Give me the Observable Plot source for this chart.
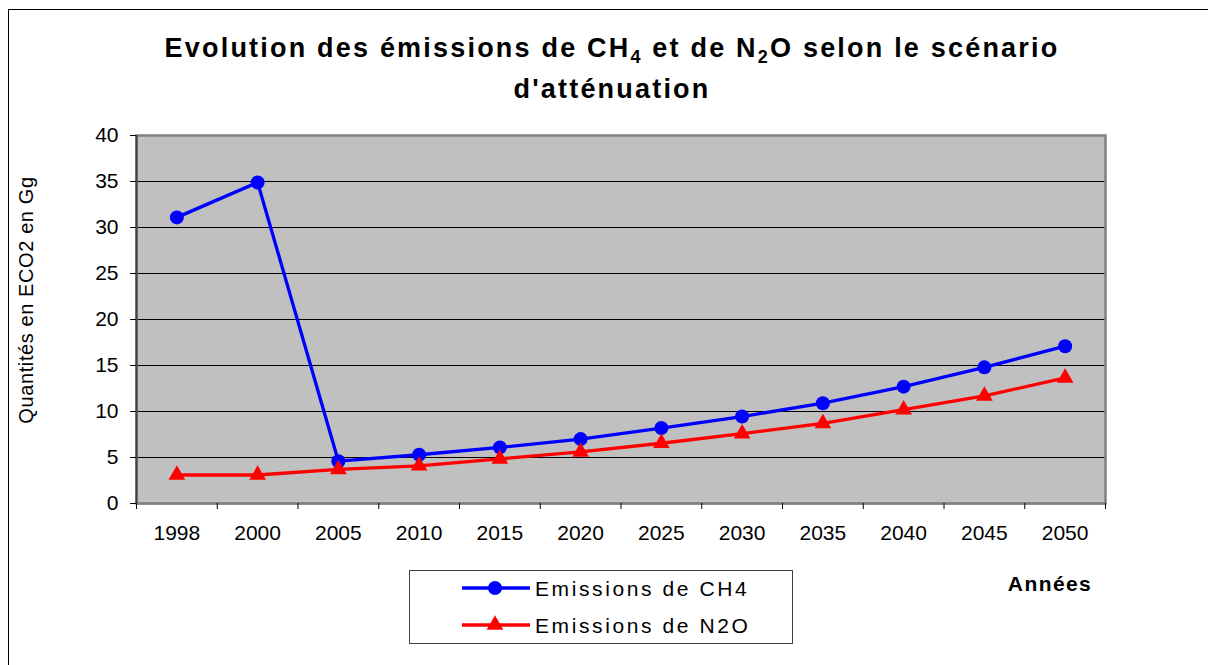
<!DOCTYPE html>
<html>
<head>
<meta charset="utf-8">
<script src="https://cdn.jsdelivr.net/npm/d3@7"></script>
<script src="https://cdn.jsdelivr.net/npm/@observablehq/plot@0.6"></script>
<style>
  html, body { margin: 0; padding: 0; background: #fff; overflow: hidden; }
  #wrap { position: relative; width: 1208px; height: 665px; overflow: hidden; font-family: "Liberation Sans", Arial, sans-serif; }
  #border { position: absolute; left: 8px; top: 9px; width: 1220px; height: 680px; border: 1px solid #000; box-sizing: border-box; }
  #chart { position: absolute; left: 0; top: 0; }
  #overlay { position: absolute; left: 0; top: 0; pointer-events: none; }
</style>
</head>
<body>
<div id="wrap">
  <div id="border"></div>
  <div id="chart"></div>
  <svg id="overlay" width="1208" height="665"></svg>
</div>
<script>
// ---- data ----
const years = ["1998", "2000", "2005", "2010", "2015", "2020", "2025", "2030", "2035", "2040", "2045", "2050"];
const ch4 = [31.1, 34.9, 4.6, 5.3, 6.1, 7.0, 8.2, 9.45, 10.9, 12.7, 14.8, 17.1];
const n2o = [3.1, 3.1, 3.7, 4.1, 4.85, 5.6, 6.55, 7.6, 8.7, 10.2, 11.7, 13.65];
const yTicks = [0, 5, 10, 15, 20, 25, 30, 35, 40];
const gridValues = [5, 10, 15, 20, 25, 30, 35];
const titleLine1 = ["Evolution des émissions de CH", "4", " et de N", "2", "O selon le scénario"];
const titleLine2 = "d'atténuation";
const yLabel = "Quantités en ECO2 en Gg";
const xLabel = "Années";
const seriesNames = ["Emissions de CH4", "Emissions de N2O"];

const rows = years.map((y, i) => ({i, year: y, ch4: ch4[i], n2o: n2o[i]}));
const idx = years.map((_, i) => i);
const boundaries = [...idx.map(i => i - 0.5), years.length - 0.5];

const font = '"Liberation Sans", Arial, sans-serif';

const chart = Plot.plot({
  width: 1208,
  height: 665,
  marginTop: 135,
  marginBottom: 162,
  marginLeft: 136,
  marginRight: 103,
  style: {fontFamily: font, fontSize: "21px", color: "#000", background: "transparent", overflow: "visible"},
  x: {type: "linear", domain: [-0.5, years.length - 0.5], axis: null},
  y: {domain: [0, 40], axis: null},
  marks: [
    Plot.frame({fill: "#c0c0c0", stroke: null}),
    Plot.ruleY(gridValues, {stroke: "#000", strokeWidth: 1}),
    Plot.frame({stroke: "#808080", strokeWidth: 2.5}),
    Plot.ruleY([0], {stroke: "#808080", strokeWidth: 2}),
    Plot.ruleX([-0.5], {stroke: "#404040", strokeWidth: 2}),
    Plot.axisY({ticks: yTicks, tickSize: 6, tickPadding: 12, label: null, fontSize: 21, stroke: "#000"}),
    Plot.axisX({ticks: boundaries, tickSize: 6, tickFormat: () => "", label: null, stroke: "#000"}),
    Plot.axisX({ticks: idx, tickSize: 0, tickPadding: 22, tickFormat: i => years[i], label: null, fontSize: 21}),
    Plot.line(rows, {x: "i", y: "ch4", stroke: "#0000ff", strokeWidth: 3.3}),
    Plot.line(rows, {x: "i", y: "n2o", stroke: "#ff0000", strokeWidth: 3.3}),
    Plot.dot(rows, {x: "i", y: "ch4", r: 7, fill: "#0000ff", stroke: null}),
    Plot.dot(rows, {x: "i", y: "n2o", r: 6.2, symbol: "triangle", fill: "#ff0000", stroke: null})
  ]
});
document.getElementById("chart").appendChild(chart);

// ---- overlay texts: title, axis labels, legend ----
const ov = d3.select("#overlay").style("font-family", font);

// Title
const t1 = ov.append("text")
  .attr("x", 612).attr("y", 57)
  .attr("text-anchor", "middle")
  .attr("font-weight", "bold").attr("font-size", 27)
  .attr("letter-spacing", 2.2);
titleLine1.forEach((s, k) => {
  const sub = k === 1 || k === 3;
  const sp = t1.append("tspan").text(s);
  if (sub) sp.attr("font-size", 18).attr("dy", 6);
  else if (k > 0) sp.attr("dy", -6);
});
ov.append("text")
  .attr("x", 612).attr("y", 98)
  .attr("text-anchor", "middle")
  .attr("font-weight", "bold").attr("font-size", 27)
  .attr("letter-spacing", 2.2)
  .text(titleLine2);

// Y label
ov.append("text")
  .attr("transform", "translate(33,300) rotate(-90)")
  .attr("text-anchor", "middle")
  .attr("font-size", 20)
  .attr("letter-spacing", 0.6)
  .text(yLabel);

// X label
ov.append("text")
  .attr("x", 1050).attr("y", 591)
  .attr("text-anchor", "middle")
  .attr("font-weight", "bold").attr("font-size", 21)
  .attr("letter-spacing", 1.4)
  .text(xLabel);

// Legend
ov.append("rect")
  .attr("x", 409.5).attr("y", 570.5).attr("width", 383).attr("height", 73)
  .attr("fill", "#fff").attr("stroke", "#404040").attr("stroke-width", 1);
const legendRows = [
  {name: seriesNames[0], color: "#0000ff", symbol: "circle", y: 588},
  {name: seriesNames[1], color: "#ff0000", symbol: "triangle", y: 625}
];
legendRows.forEach(d => {
  ov.append("line").attr("x1", 462).attr("x2", 530).attr("y1", d.y).attr("y2", d.y)
    .attr("stroke", d.color).attr("stroke-width", 3.3);
  if (d.symbol === "circle") {
    ov.append("circle").attr("cx", 495).attr("cy", d.y).attr("r", 7).attr("fill", d.color);
  } else {
    ov.append("path").attr("transform", `translate(495,${d.y})`)
      .attr("d", d3.symbol(d3.symbolTriangle, Math.PI * 6.2 * 6.2)())
      .attr("fill", d.color);
  }
  ov.append("text").attr("x", 535).attr("y", d.y + 8)
    .attr("font-size", 21).attr("letter-spacing", 2.6)
    .text(d.name);
});
</script>
</body>
</html>
